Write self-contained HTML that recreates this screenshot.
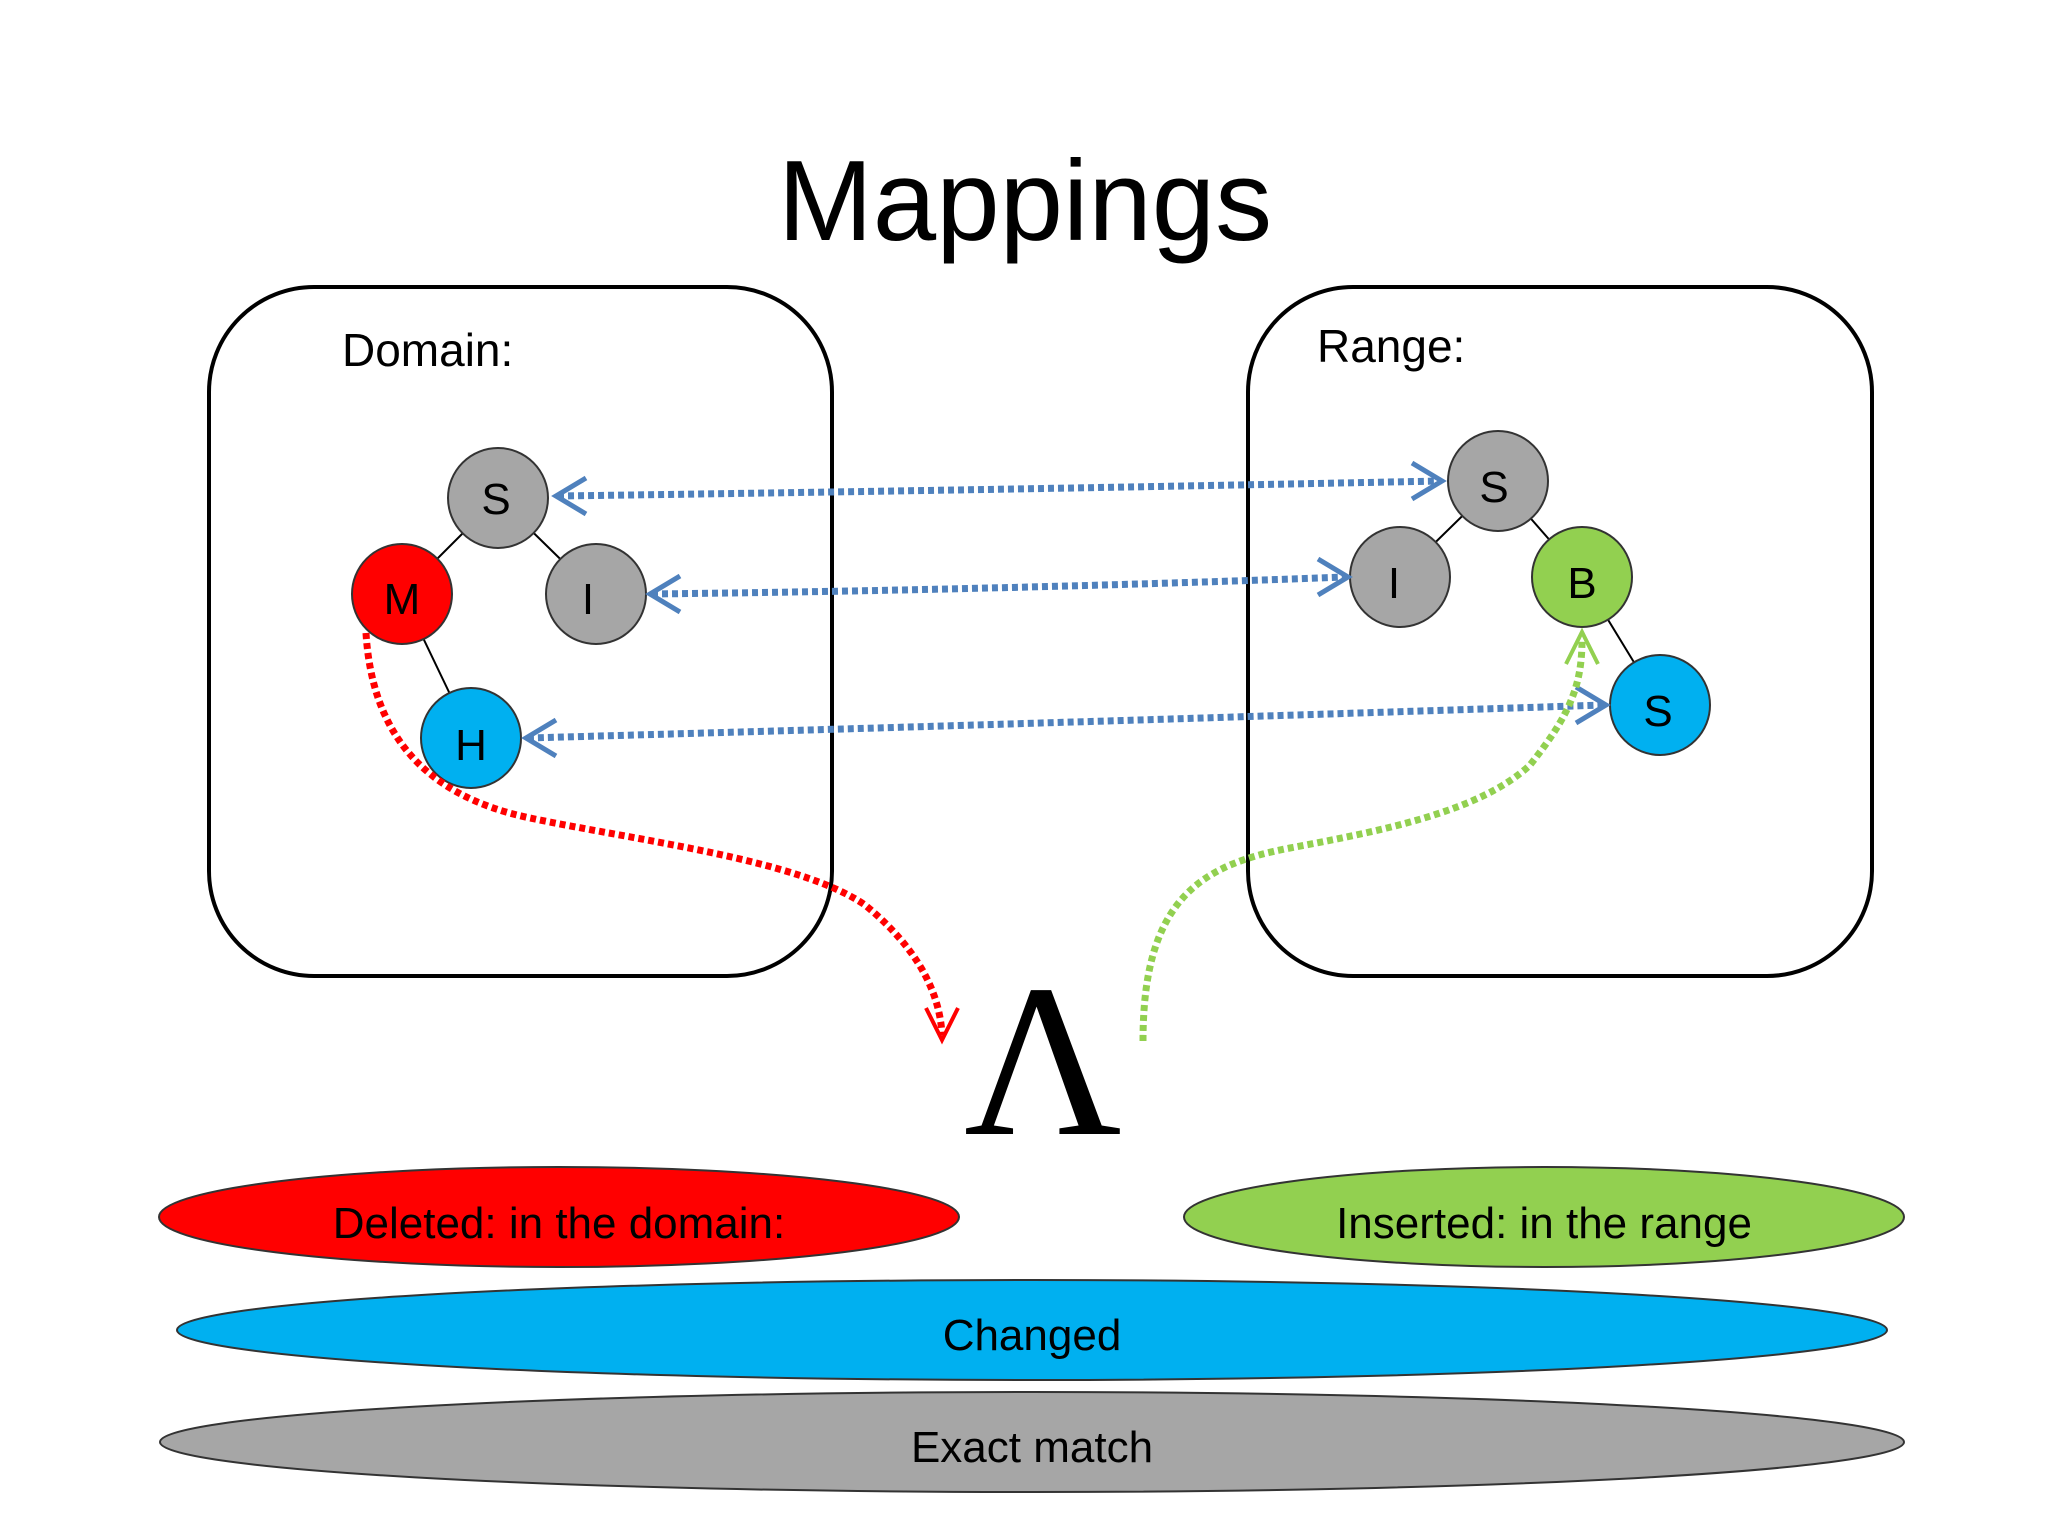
<!DOCTYPE html>
<html><head><meta charset="utf-8"><style>body{margin:0;background:#fff}svg{display:block}</style></head>
<body>
<svg width="2048" height="1536" viewBox="0 0 2048 1536" xmlns="http://www.w3.org/2000/svg" font-family="Liberation Sans, sans-serif">
<rect width="2048" height="1536" fill="#fff"/>
<text x="1025" y="240" font-size="114" text-anchor="middle" fill="#000">Mappings</text>
<rect x="209" y="287" width="623" height="689" rx="105" fill="none" stroke="#000" stroke-width="4"/>
<rect x="1248" y="287" width="624" height="689" rx="105" fill="none" stroke="#000" stroke-width="4"/>
<text x="342" y="366" font-size="46">Domain:</text>
<text x="1317" y="362" font-size="46">Range:</text>
<g stroke="#000" stroke-width="2">
<line x1="498" y1="498" x2="402" y2="594"/><line x1="498" y1="498" x2="596" y2="594"/><line x1="402" y1="594" x2="471" y2="738"/>
<line x1="1498" y1="481" x2="1400" y2="577"/><line x1="1498" y1="481" x2="1582" y2="577"/><line x1="1582" y1="577" x2="1660" y2="705"/>
</g>
<g stroke="#333" stroke-width="2" font-size="44" text-anchor="middle">
<circle cx="498" cy="498" r="50" fill="#a6a6a6"/><circle cx="402" cy="594" r="50" fill="#ff0000"/><circle cx="596" cy="594" r="50" fill="#a6a6a6"/><circle cx="471" cy="738" r="50" fill="#00b0f0"/>
<circle cx="1498" cy="481" r="50" fill="#a6a6a6"/><circle cx="1400" cy="577" r="50" fill="#a6a6a6"/><circle cx="1582" cy="577" r="50" fill="#92d050"/><circle cx="1660" cy="705" r="50" fill="#00b0f0"/>
</g>
<g font-size="44" text-anchor="middle" fill="#000">
<text x="496" y="514">S</text><text x="402" y="614">M</text><text x="588" y="614">I</text><text x="471" y="760">H</text>
<text x="1494" y="502">S</text><text x="1394" y="598">I</text><text x="1582" y="598">B</text><text x="1658" y="726">S</text>
</g>
<g fill="none" stroke="#4f81bd" stroke-width="7" stroke-dasharray="6 4">
<path d="M558,496 Q1000,490 1440,481"/>
<path d="M652,594 Q1000,590 1346,577"/>
<path d="M528,738 Q1000,725 1604,705"/>
</g>
<g fill="none" stroke="#4f81bd" stroke-width="5">
<path d="M586,478 L556,496 L586,514"/><path d="M1412,463 L1442,481 L1412,499"/>
<path d="M680,576 L650,594 L680,612"/><path d="M1318,559 L1348,577 L1318,595"/>
<path d="M556,720 L526,738 L556,756"/><path d="M1576,687 L1606,705 L1576,723"/>
</g>
<path d="M366,633 C372,730 420,795 530,818 S800,860 865,905 C920,950 940,995 942,1035" fill="none" stroke="#ff0000" stroke-width="7" stroke-dasharray="6 4"/>
<path d="M926,1008 L942,1040 L958,1008" fill="none" stroke="#ff0000" stroke-width="4"/>
<path d="M1143,1041 C1143,900 1200,865 1290,848 S1480,812 1530,765 C1570,715 1582,685 1582,640" fill="none" stroke="#92d050" stroke-width="7" stroke-dasharray="6 4"/>
<path d="M1566,664 L1582,632 L1598,664" fill="none" stroke="#92d050" stroke-width="4"/>
<text x="1043" y="1134" font-size="218" font-family="Liberation Serif, serif" text-anchor="middle">Λ</text>
<g stroke="#333" stroke-width="2">
<ellipse cx="559" cy="1217" rx="400" ry="50" fill="#ff0000"/>
<ellipse cx="1544" cy="1217" rx="360" ry="50" fill="#92d050"/>
<ellipse cx="1032" cy="1330" rx="855" ry="50" fill="#00b0f0"/>
<ellipse cx="1032" cy="1442" rx="872" ry="50" fill="#a6a6a6"/>
</g>
<g font-size="44" text-anchor="middle" fill="#000">
<text x="559" y="1238">Deleted: in the domain:</text>
<text x="1544" y="1238">Inserted: in the range</text>
<text x="1032" y="1350">Changed</text>
<text x="1032" y="1462">Exact match</text>
</g>
</svg>
</body></html>
